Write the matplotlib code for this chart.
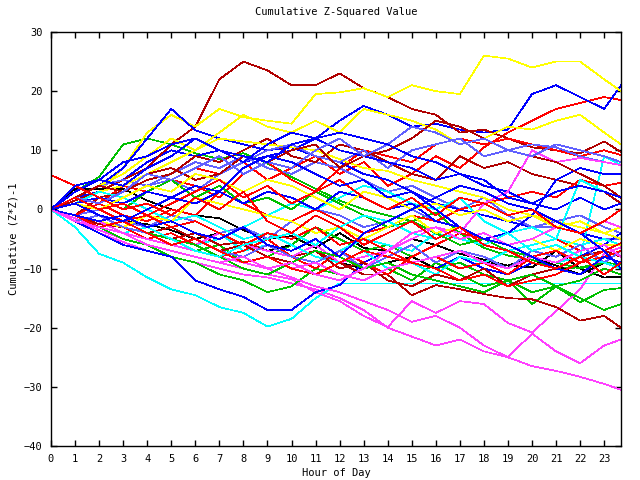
import matplotlib
matplotlib.use("Agg")
import matplotlib.pyplot as plt

# ==========================
# DATA (hourly samples)
# ==========================

HOURS = [0, 1, 2, 3, 4, 5, 6, 7, 8, 9, 10, 11, 12, 13, 14, 15, 16, 17,
         18, 19, 20, 21, 22, 23, 23.7]

# darkred
darkred_1 = [0, 1.5, 3, 5, 7, 11, 14, 22, 25, 23.5, 21, 21, 23, 20.5, 19, 17, 16, 13, 13.5, 12, 10.5, 10, 9.5, 11.5, 9.7]
darkred_2 = [0, -1, 2, 3, 5, 6, 9, 8, 10, 12, 9, 8, 11, 10, 8, 6, 5, 9, 7, 8, 6, 5, 4, 3, 1]
darkred_3 = [0, -1, -2.5, -3, -4, -5, -4, -6, -5.5, -7, -8, -7, -9, -11, -11, -14.5, -12.8, -13.5, -14.3, -15, -15.2, -16.5, -18.8, -18, -20]
darkred_4 = [0, 1, 0, -2, -4, -3, -5, -7, -6, -8, -9, -7, -10, -9, -12, -13, -11, -12, -10, -13, -11, -10, -8, -7, -8]
darkred_5 = [0, 2, 4, 3, 6, 7, 5, 6, 9, 8, 10, 11, 7, 9, 10, 12, 15, 14, 12, 10, 9, 8, 6, 4, 2]

# yellow
yellow_1 = [0, 1, 3, 7, 13, 16, 14, 17, 15.6, 15, 14.5, 19.5, 19.8, 20.5, 19, 21, 20, 19.5, 26, 25.5, 24, 25, 25, 22, 20]
yellow_2 = [0, 2, 4, 6, 9, 12, 10, 13, 16, 14, 13, 15, 13, 17, 16, 15, 13.5, 11, 12, 14, 13.5, 15, 16, 13, 11]
yellow_3 = [0, 1, 3, 4, 6, 8, 10, 12, 11.5, 11, 10.5, 10, 8.5, 7, 6.5, 5, 4, 3, 2, 0, -1, -2, -3, -4, -5]
yellow_4 = [0, -1, -2, -3, -1, -2, 2, 1, 0, -1, -2, -4, -3, -5, -3, -1, -4, -3, -5, -6, -5, -7, -5, -6, -6]
yellow_5 = [0, 1, 0, 2, 4, 3, 6, 5, 3, 5, 4, 2, 0, 3, 2, 0, 1, -1, 0, -2, -1, -3, -2, -4, -3]

# blue
blue_1 = [0, 2, 3, 5, 8, 10, 9, 10, 8, 9, 10, 12, 15, 17.5, 16, 14, 14.5, 13.5, 13, 13.5, 19.5, 21, 19, 17, 21]
blue_2 = [0, 2, 4, 7, 12, 17, 13.4, 12, 11, 10, 10.5, 9, 8, 6, 5, 3, 1, 0, -1, -2, -3, -2, -4, -5, -6]
blue_3 = [0, -2, -4, -6, -7, -8, -12, -13.5, -14.8, -17, -17, -14, -12.8, -9, -7, -9, -10, -8, -10, -11, -9, -10, -8, -6, -4]
blue_4 = [0, 3, 5, 4, 7, 9, 12, 10, 8, 11, 13, 12, 10, 9, 8, 7, 5, 6, 4, 3, 1, 0, 2, 0, 1]
blue_5 = [0, 1, 2, 1, 3, 2, 4, 3, 1, 3, 2, 0, 3, 2, 0, 1, -2, -3, -5, -4, -1, 5, 7, 6, 6]
blue_6 = [0, -1, -2, -1, -3, -2, -4, -5, -3, -6, -7, -5, -8, -4, -2, 0, 2, 4, 3, 1, 0, -2, -4, -7, -10]
blue_7 = [0, 1, -1, -2, 0, 2, 1, 3, 7, 9, 8, 6, 4, 5, 2, 3, 0, -3, -5, -6, -8, -10, -11, -8, -9]
blue_8 = [0, 4, 5, 8, 9, 11, 12, 10, 9, 8, 11, 12, 13, 12, 11, 9, 8, 6, 5, 2, 1, 3, 4, 3, 2]

# light blue
lblue_1 = [0, 2, 4, 5, 4, 6, 8, 7, 9, 7, 6, 8, 7, 5, 3, 4, 2, 0, -1, -2, -3, -3, -4, -5, -5]
lblue_2 = [0, -1, 0, -2, -3, -1, -2, -4, -3, -5, -2, 0, -1, -3, -2, 0, -2, 0, 2, -1, -3, -2, -1, -3, -4]
lblue_3 = [0, 1, 3, 2, 4, 5, 3, 6, 8, 10, 11, 9, 8, 10, 7, 10, 11, 12, 9, 10, 11, 10.5, 9, 8, 7.5]
lblue_4 = [0, -2, -1, -3, -4, -6, -5, -7, -8, -6, -8, -9, -7, -10, -8, -6, -9, -7, -8, -10, -7, -8, -6, -9, -7]
lblue_5 = [0, 2, 1, 3, 6, 5, 7, 9, 6, 8, 7, 10, 12, 9, 11, 14, 13, 11, 12, 10, 9, 11, 10, 9, 8]

# red
red_1 = [0, 2, 1, 4, 3, 5, 7, 6, 8, 5, 7, 9, 6, 8, 4, 6, 9, 7, 10.5, 13, 15, 17, 18, 19, 18.5]
red_2 = [0, 3, 5, 4, 3, 5, 4, 2, 6, 8, 5, 3, 7, 10, 9, 8, 11, 12, 11, 12, 11, 10, 9, 10, 9.2]
red_3 = [0, -1, 1, -1, -2, 0, -1, 3, 1, -1, -2, 0, -2, -4, -3, -1, -2, 0, 1, 2, 3, 2, 5, 4, 4.5]
red_4 = [0, -2, -1, -3, -5, -4, -6, -8, -7, -5, -8, -10, -7, -9, -11, -8, -6, -4, -5, -7, -6, -5, -7, -6, -6]
red_5 = [0, 1, 0, -2, -1, -3, -2, -4, -6, -4, -5, -3, -6, -5, -7, -9, -8, -10, -9, -11, -8, -7, -9, -8, -7]
red_6 = [0, -1, -3, -2, -4, -6, -5, -7, -9, -8, -10, -11, -9, -7, -8, -9, -10, -12, -11, -13, -12, -11, -9, -7, -5.7]
red_7 = [0, 2, 0, 1, -1, 1, 3, 5, 2, 4, 1, 3, 5, 2, 0, 2, -1, 2, 1, -1, 0, -3, -4, -2, 0]
red_8 = [5.8, 4, 2, 0, 1, -1, 2, 0, 3, -2, -4, -1, -3, -6, -4, -2, -5, -3, -6, -7, -9, -10, -8, -11, -9]

# green
green_1 = [0, 3, 5.5, 11, 12, 11, 9.5, 8.5, 9.5, 7.8, 5.5, 3.5, 1.5, 0, -1, -2, -0.5, -4, -6.5, -7.8, -8.5, -10, -9.8, -9, -9.3]
green_2 = [0, -1, -2, -4, -3, -5, -7, -6, -9, -8, -6, -3, -5, -7, -6, -8, -10, -9, -11, -12, -16, -13, -15.7, -13.6, -13.3]
green_3 = [0, -2, -3, -5, -6, -8, -9, -11, -12, -14, -13, -10, -11, -12, -10, -12, -9, -11, -13, -12, -14, -13, -15, -17, -16]
green_4 = [0, 1, 2, 0, 3, 5, 2, 4, 1, 2, 0, 3, 1, -1, -3, -2, -4, -6, -5, -7, -8, -9, -10, -9, -10]
green_5 = [0, -1, -3, -2, -4, -5, -6, -8, -10, -11, -9, -7, -8, -10, -9, -11, -12, -13, -14, -12, -11, -13, -12, -10, -11]

# cyan
cyan_1 = [0, -3, -7.5, -9, -11.5, -13.5, -14.5, -16.5, -17.5, -19.8, -18.5, -15, -12.5, -12.5, -12.5, -12.5, -12.5, -12.5, -12.5, -12.5, -12.5, -12.5, -12.5, -12.5, -12.5]
cyan_2 = [0, -1, -2, -4, -3, -5, -6, -4, -7, -6, -8, -9, -7, -5, -6, -7, -4, -5, -6, -7, -8, -9, -8, 9, 7.5]
cyan_3 = [0, -2, -1, -3, -5, -4, -6, -5, -3, -1, 1, 0, 2, 4, 3, 1, 0, 2, -2, -4, -3, -5, -6, -5, -6]
cyan_4 = [0, 1, 3, 2, 0, -2, -1, -3, -5, -4, -6, -8, -9, -7, -10, -9, -11, -8, -9, -7, -6, -5, 5, 3, 2]
cyan_5 = [0, -1, -2, -1, -3, -5, -7, -8, -6, -5, -4, -6, -3, -1, -2, -4, -5, -3, -6, -4, -7, -6, -8, -9, -10]

# magenta
magenta_1 = [0, -2, -4, -5.5, -7, -8, -9, -10, -11, -11.5, -12.5, -13.5, -15, -17, -20, -21.5, -23, -22, -24, -25, -26.5, -27.3, -28.3, -29.5, -30.5]
magenta_2 = [0, -2, -3.5, -5, -6, -7, -8, -9, -10, -11, -11.8, -14, -15.5, -18, -19.9, -15.5, -17.5, -15.5, -16, -19.2, -20.8, -17.2, -13.5, -7.5, -6.4]
magenta_3 = [0, -1.5, -3, -4, -5, -6, -7, -8, -9, -10, -11.5, -13, -14, -15.5, -17, -19, -18, -20, -23, -25, -21, -24, -26, -23, -22]
magenta_4 = [0, -1, -2, -3, -4, -5, -6, -4, -6, -7, -8, -6, -9, -8, -7, -5, -3, -4, 1, 3, 10, 8, 8.7, 8, 7.5]
magenta_5 = [0, -1, -2, -4, -5, -6, -5, -7, -9, -8, -10, -9, -11, -12, -10, -9, -8, -7, -9, -10, -8, -9, -7, -6, -8]
magenta_6 = [0, -2, -3, -4, -6, -7, -8, -9, -8, -10, -9, -11, -12, -10, -7, -4, -3, -5, -4, -6, -5, -3, -4, -2, -3]

# black
black_1 = [0, 3.5, 3.5, 3.5, 1.5, 0, -1, -1.5, -3.5, -5, -4.5, -6.5, -4, -6.5, -7, -5, -6, -7.5, -8.5, -9.5, -9.8, -7, -10, -11.5, -11.4]
black_2 = [0, 1, -1, -2, -2.5, -3.5, -5, -4, -6, -7, -6, -8, -9, -10, -9, -8, -10, -8, -9, -9.5, -8, -9.5, -11, -9, -10]

RED = "#ff0000"
GREEN = "#00c000"
BLUE = "#0000ff"
MAGENTA = "#ff40ff"
CYAN = "#00ffff"
DARKRED = "#b00000"
YELLOW = "#ffff00"
BLACK = "#000000"
LBLUE = "#6060ff"

SERIES = [
    (red_1, RED), (green_1, GREEN), (blue_1, BLUE), (magenta_1, MAGENTA),
    (cyan_1, CYAN), (darkred_1, DARKRED), (yellow_1, YELLOW), (black_1, BLACK),
    (lblue_1, LBLUE),
    (red_2, RED), (green_2, GREEN), (blue_2, BLUE), (magenta_2, MAGENTA),
    (cyan_2, CYAN), (darkred_2, DARKRED), (yellow_2, YELLOW), (black_2, BLACK),
    (lblue_2, LBLUE),
    (red_3, RED), (green_3, GREEN), (blue_3, BLUE), (magenta_3, MAGENTA),
    (cyan_3, CYAN), (darkred_3, DARKRED), (yellow_3, YELLOW), (lblue_3, LBLUE),
    (red_4, RED), (green_4, GREEN), (blue_4, BLUE), (magenta_4, MAGENTA),
    (cyan_4, CYAN), (darkred_4, DARKRED), (yellow_4, YELLOW), (lblue_4, LBLUE),
    (red_5, RED), (green_5, GREEN), (blue_5, BLUE), (magenta_5, MAGENTA),
    (cyan_5, CYAN), (darkred_5, DARKRED), (yellow_5, YELLOW), (lblue_5, LBLUE),
    (red_6, RED), (blue_6, BLUE), (magenta_6, MAGENTA),
    (red_7, RED), (blue_7, BLUE),
    (red_8, RED), (blue_8, BLUE),
]


def generate_graph():

    plt.rcParams["font.family"] = "DejaVu Sans Mono"

    fig = plt.figure(figsize=(6.4, 4.8), dpi=100)
    ax = fig.add_axes([51 / 640, 34 / 480, 570 / 640, 414 / 480])

    for values, color in SERIES:
        ax.plot(HOURS, values, color=color, linewidth=0.5, antialiased=False)

    ax.set_xlim(0, 23.7)
    ax.set_ylim(-40, 30)

    ax.set_xticks(range(0, 24))
    ax.set_yticks(range(-40, 31, 10))

    ax.tick_params(
        direction="in",
        length=4,
        width=1,
        top=True,
        right=True,
        labelsize=7.5,
        pad=6
    )

    for spine in ax.spines.values():
        spine.set_linewidth(1)

    ax.set_title("Cumulative Z-Squared Value", fontsize=7.5, pad=12)
    ax.set_xlabel("Hour of Day", fontsize=7.5, labelpad=3)
    ax.set_ylabel("Cumulative (Z*Z)-1", fontsize=7.5, labelpad=4)

    fig.savefig("out.png", dpi=100)
    plt.close(fig)


generate_graph()
